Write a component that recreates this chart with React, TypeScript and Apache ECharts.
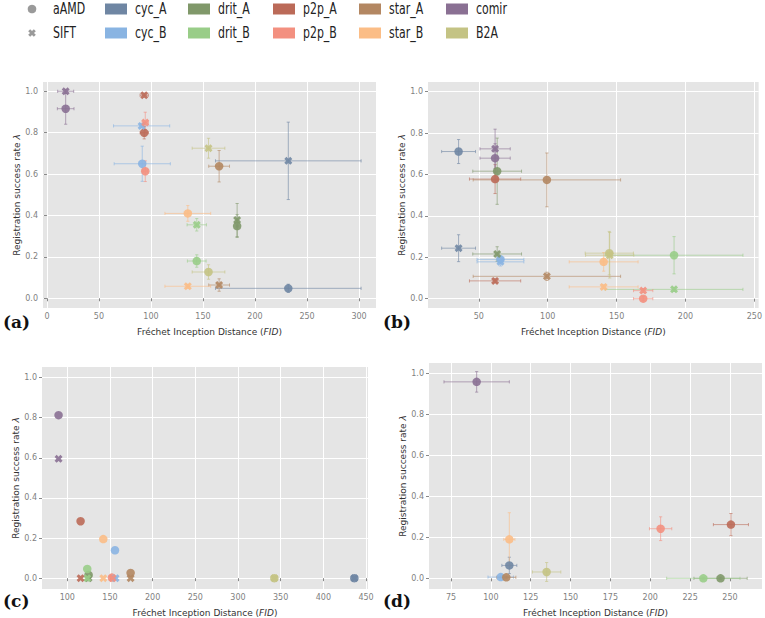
import React, { useEffect, useRef } from "react";
import * as echarts from "echarts";

// ---------- data ----------
const METHODS = ["cyc_A", "cyc_B", "drit_A", "drit_B", "p2p_A", "p2p_B", "star_A", "star_B", "comir", "B2A"];
const COLORS = ["#6f86a3", "#89b4e2", "#80986a", "#99cd88", "#bb6a58", "#f39080", "#b38762", "#fbbd86", "#8a7093", "#c4c384"];
const MARKER_NAMES = ["aAMD", "SIFT"];

// panel (a)
const A_AMD_FID = [232, 91.6, 182.8, 144, 93.5, 94.5, 165.5, 135.4, 18, 155.3];
const A_AMD_FID_ERR = [70, 27, 1, 9, 4, 2, 10, 22, 8, 15.7];
const A_AMD_RATE = [0.048, 0.65, 0.349, 0.18, 0.8, 0.614, 0.638, 0.41, 0.916, 0.127];
const A_AMD_RATE_ERR = [0.02, 0.085, 0.055, 0.03, 0.03, 0.05, 0.076, 0.038, 0.075, 0.035];
const A_SIFT_FID = [232, 91, 182.8, 144, 93.5, 94.5, 165.5, 135.4, 18, 155.3];
const A_SIFT_FID_ERR = [70, 27, 1, 9.3, 4, 3, 10, 22, 7.7, 15.7];
const A_SIFT_RATE = [0.664, 0.833, 0.378, 0.355, 0.981, 0.849, 0.064, 0.058, 1.0, 0.725];
const A_SIFT_RATE_ERR = [0.187, 0.01, 0.08, 0.03, 0.01, 0.05, 0.03, 0.01, 0.01, 0.048];

// panel (b)
const B_AMD_FID = [35.3, 65.7, 63.3, 191.7, 61.8, 169.3, 99.4, 140.6, 61.8, 144.7];
const B_AMD_FID_ERR = [12.3, 17, 17.7, 50, 18.6, 7, 53.5, 25, 11, 17.5];
const B_AMD_RATE = [0.711, 0.19, 0.616, 0.21, 0.578, 0.0, 0.574, 0.178, 0.679, 0.22];
const B_AMD_RATE_ERR = [0.058, 0.015, 0.16, 0.09, 0.07, 0.01, 0.13, 0.045, 0.07, 0.105];
const B_SIFT_FID = [35.3, 65.7, 63.3, 191.7, 61.8, 169.3, 99.4, 140.6, 61.8, 145];
const B_SIFT_FID_ERR = [12.3, 17, 17.7, 50, 18.6, 7, 53.5, 25, 11, 17.5];
const B_SIFT_RATE = [0.244, 0.178, 0.216, 0.045, 0.086, 0.039, 0.108, 0.057, 0.724, 0.21];
const B_SIFT_RATE_ERR = [0.065, 0.02, 0.035, 0.01, 0.01, 0.01, 0.02, 0.01, 0.095, 0.11];

// panel (c) (no error bars)
const C_AMD_FID = [436.3, 155.9, 125, 123.4, 115.6, 152.3, 174.2, 142.2, 89.8, 342.6];
const C_AMD_RATE = [0, 0.139, 0.016, 0.046, 0.284, 0.003, 0.026, 0.195, 0.813, 0];
const C_SIFT_FID = [436.3, 156.6, 125, 123.4, 115.6, 153, 174.2, 142.2, 89.8, 342.6];
const C_SIFT_RATE = [0, 0, 0, 0, 0, 0, 0, 0, 0.595, 0];

// panel (d) (aAMD only)
const D_AMD_FID = [111.6, 106.2, 244.1, 233.3, 250.6, 206.5, 109.7, 111.6, 91.1, 135];
const D_AMD_FID_ERR = [4.7, 8, 16.7, 23, 11, 7, 6, 3.5, 20.5, 8.9];
const D_AMD_RATE = [0.063, 0.006, 0, 0, 0.262, 0.242, 0.005, 0.19, 0.958, 0.031];
const D_AMD_RATE_ERR = [0.04, 0.005, 0.005, 0.005, 0.054, 0.058, 0.005, 0.13, 0.05, 0.046];

// tick labels
const X_TICKS_A = [0, 50, 100, 150, 200, 250, 300];
const X_TICKS_B = [50, 100, 150, 200, 250];
const X_TICKS_C = [100, 150, 200, 250, 300, 350, 400, 450];
const X_TICKS_D = [75, 100, 125, 150, 175, 200, 225, 250];
const Y_TICKS = [0, 0.2, 0.4, 0.6, 0.8, 1.0];
const PANEL_LABELS = ["(a)", "(b)", "(c)", "(d)"];
const X_NAME = "Fréchet Inception Distance ({i|FID})";
const Y_NAME = "Registration success rate {i|λ}";

// ---------- layout / style ----------
const X_PATH =
  "path://M146,4.5 L195.5,54 L149.5,100 L195.5,146 L146,195.5 L100,149.5 L54,195.5 L4.5,146 L50.5,100 L4.5,54 L54,4.5 L100,50.5 Z";
const X_UNIT = [
  [0.46, -0.955], [0.955, -0.46], [0.495, 0], [0.955, 0.46], [0.46, 0.955], [0, 0.495],
  [-0.46, 0.955], [-0.955, 0.46], [-0.495, 0], [-0.955, -0.46], [-0.46, -0.955], [0, -0.495],
];

const PANELS = [
  {
    grid: { left: 43, top: 82, width: 333, height: 226 },
    x: [-3.8, 316.3], y: [-0.047, 1.045], xTicks: X_TICKS_A,
    sets: [
      { fid: A_AMD_FID, fe: A_AMD_FID_ERR, rate: A_AMD_RATE, re: A_AMD_RATE_ERR, marker: 0 },
      { fid: A_SIFT_FID, fe: A_SIFT_FID_ERR, rate: A_SIFT_RATE, re: A_SIFT_RATE_ERR, marker: 1 },
    ],
    label: [3, 322],
  },
  {
    grid: { left: 428, top: 82, width: 332, height: 226 },
    x: [13.1, 253.1], y: [-0.045, 1.047], xTicks: X_TICKS_B,
    sets: [
      { fid: B_AMD_FID, fe: B_AMD_FID_ERR, rate: B_AMD_RATE, re: B_AMD_RATE_ERR, marker: 0 },
      { fid: B_SIFT_FID, fe: B_SIFT_FID_ERR, rate: B_SIFT_RATE, re: B_SIFT_RATE_ERR, marker: 1 },
    ],
    label: [383, 322],
  },
  {
    grid: { left: 42, top: 367, width: 326, height: 225 },
    x: [70.4, 452.3], y: [-0.054, 1.053], xTicks: X_TICKS_C,
    sets: [
      { fid: C_AMD_FID, fe: null, rate: C_AMD_RATE, re: null, marker: 0 },
      { fid: C_SIFT_FID, fe: null, rate: C_SIFT_RATE, re: null, marker: 1 },
    ],
    label: [3, 601],
  },
  {
    grid: { left: 429, top: 363, width: 333, height: 228 },
    x: [61.2, 270.1], y: [-0.052, 1.05], xTicks: X_TICKS_D,
    sets: [{ fid: D_AMD_FID, fe: D_AMD_FID_ERR, rate: D_AMD_RATE, re: D_AMD_RATE_ERR, marker: 0 }],
    label: [383, 601],
  },
];

const TICK_FONT = "DejaVu Sans";
const TEXT_DARK = "#333333";

function buildOption() {
  const grids: any[] = [];
  const xAxes: any[] = [];
  const yAxes: any[] = [];
  const series: any[] = [];
  const graphics: any[] = [];

  PANELS.forEach((p, pi) => {
    grids.push({
      ...p.grid,
      show: true,
      backgroundColor: "#e5e5e5",
      borderWidth: 0,
      containLabel: false,
    });
    xAxes.push({
      type: "value",
      gridIndex: pi,
      min: p.x[0],
      max: p.x[1],
      name: X_NAME,
      nameLocation: "middle",
      nameGap: 19,
      nameTextStyle: {
        fontFamily: TICK_FONT, fontSize: 9, color: TEXT_DARK,
        rich: { i: { fontFamily: TICK_FONT, fontSize: 9, color: TEXT_DARK, fontStyle: "italic" } },
      },
      axisLine: { show: false },
      axisTick: { show: true, length: 3, lineStyle: { color: "#888" }, customValues: p.xTicks },
      axisLabel: {
        customValues: p.xTicks, margin: 4, fontFamily: TICK_FONT, fontSize: 8, color: "#7f7f7f",
        formatter: (v: number) => String(Math.round(v)),
      },
      splitLine: { show: true, lineStyle: { color: "#ffffff", width: 1 } },
    });
    yAxes.push({
      type: "value",
      gridIndex: pi,
      min: p.y[0],
      max: p.y[1],
      name: Y_NAME,
      nameLocation: "middle",
      nameGap: 21,
      nameTextStyle: {
        fontFamily: TICK_FONT, fontSize: 9, color: TEXT_DARK,
        rich: { i: { fontFamily: TICK_FONT, fontSize: 9, color: TEXT_DARK, fontStyle: "italic" } },
      },
      axisLine: { show: false },
      axisTick: { show: true, length: 3, lineStyle: { color: "#888" }, customValues: Y_TICKS },
      axisLabel: {
        customValues: Y_TICKS, margin: 5, fontFamily: TICK_FONT, fontSize: 8, color: "#7f7f7f",
        formatter: (v: number) => v.toFixed(1),
      },
      splitLine: { show: true, lineStyle: { color: "#ffffff", width: 1 } },
    });

    // error bars
    p.sets.forEach((s) => {
      if (!s.fe) return;
      const rows = s.fid.map((f, i) => [f, s.rate[i], s.fe![i], s.re![i], i]);
      series.push({
        type: "custom",
        xAxisIndex: pi,
        yAxisIndex: pi,
        z: 1,
        silent: true,
        encode: { x: 0, y: 1 },
        data: rows,
        renderItem: (_params: any, api: any) => {
          const x = api.value(0), y = api.value(1), xe = api.value(2), ye = api.value(3), ci = api.value(4);
          const c = api.coord([x, y]);
          const l = api.coord([x - xe, y]);
          const r = api.coord([x + xe, y]);
          const t = api.coord([x, y + ye]);
          const b = api.coord([x, y - ye]);
          const style = { stroke: COLORS[ci], lineWidth: 1, opacity: 0.6 };
          const cap = 1.6;
          return {
            type: "group",
            children: [
              { type: "line", shape: { x1: l[0], y1: c[1], x2: r[0], y2: c[1] }, style },
              { type: "line", shape: { x1: c[0], y1: t[1], x2: c[0], y2: b[1] }, style },
              { type: "line", shape: { x1: l[0], y1: c[1] - cap, x2: l[0], y2: c[1] + cap }, style },
              { type: "line", shape: { x1: r[0], y1: c[1] - cap, x2: r[0], y2: c[1] + cap }, style },
              { type: "line", shape: { x1: c[0] - cap, y1: t[1], x2: c[0] + cap, y2: t[1] }, style },
              { type: "line", shape: { x1: c[0] - cap, y1: b[1], x2: c[0] + cap, y2: b[1] }, style },
            ],
          };
        },
      });
    });

    // markers
    p.sets.forEach((s) => {
      series.push({
        type: "scatter",
        name: MARKER_NAMES[s.marker],
        xAxisIndex: pi,
        yAxisIndex: pi,
        z: 3,
        clip: false,
        symbol: s.marker === 0 ? "circle" : X_PATH,
        symbolSize: s.marker === 0 ? 8.5 : 8,
        data: s.fid.map((f, i) => ({
          value: [f, s.rate[i]],
          itemStyle: { color: COLORS[i], opacity: 0.9 },
        })),
      });
    });

    graphics.push({
      type: "text",
      x: p.label[0],
      y: p.label[1],
      style: {
        text: PANEL_LABELS[pi],
        fontFamily: "DejaVu Serif",
        fontWeight: "bold",
        fontSize: 17,
        fill: "#111",
        verticalAlign: "middle",
      },
    });
  });

  // legend (markers)
  const ROW_Y = [9, 33];
  const LEGEND_TEXT = {
    fill: "#222",
    fontFamily: "DejaVu Sans",
    fontSize: 15,
    verticalAlign: "middle",
  };
  graphics.push({ type: "circle", shape: { cx: 32, cy: ROW_Y[0], r: 4.3 }, style: { fill: "#9a9a9a" } });
  graphics.push({
    type: "polygon",
    shape: { points: X_UNIT.map(([ux, uy]) => [32 + ux * 4, ROW_Y[1] + uy * 4]) },
    style: { fill: "#9a9a9a" },
  });
  MARKER_NAMES.forEach((n, i) => {
    graphics.push({
      type: "text",
      x: 53,
      y: ROW_Y[i],
      scaleX: 0.73,
      style: { text: n, ...LEGEND_TEXT },
    });
  });
  // legend (methods)
  const PATCH_X = [105, 188, 273, 359, 446];
  METHODS.forEach((m, i) => {
    const col = Math.floor(i / 2);
    const row = i % 2;
    const px = PATCH_X[col];
    const cy = ROW_Y[row];
    graphics.push({ type: "rect", shape: { x: px, y: cy - 5.5, width: 22, height: 11 }, style: { fill: COLORS[i] } });
    graphics.push({
      type: "text",
      x: px + 30,
      y: cy,
      scaleX: 0.73,
      style: { text: m, ...LEGEND_TEXT },
    });
  });

  return {
    animation: false,
    backgroundColor: "#ffffff",
    grid: grids,
    xAxis: xAxes,
    yAxis: yAxes,
    series,
    graphic: graphics,
  };
}

export default function App() {
  const ref = useRef<HTMLDivElement>(null);
  useEffect(() => {
    if (!ref.current) return;
    const chart = echarts.init(ref.current, null, { renderer: "svg" });
    chart.setOption(buildOption() as any);
    return () => chart.dispose();
  }, []);
  return (
    <div
      ref={ref}
      style={{ position: "fixed", left: 0, top: 0, width: 765, height: 618, background: "#fff" }}
    />
  );
}
